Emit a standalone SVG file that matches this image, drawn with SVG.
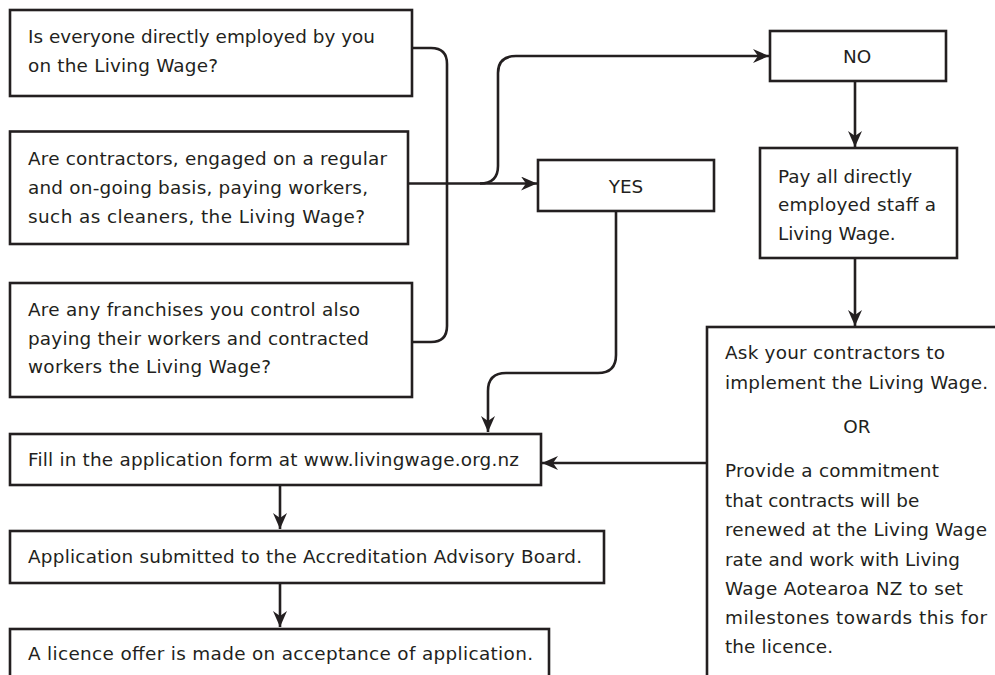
<svg xmlns="http://www.w3.org/2000/svg" width="995" height="675" viewBox="0 0 995 675">
<defs>
<style>
.box{fill:#fff;stroke:#231f20;stroke-width:2.6}
.t{font-family:"DejaVu Sans","Liberation Sans",sans-serif;font-size:18.4px;fill:#231f20}
.c{text-anchor:middle}
.ln{fill:none;stroke:#231f20;stroke-width:2.6}
.ar{marker-end:url(#ah)}
</style>
<marker id="ah" markerUnits="userSpaceOnUse" markerWidth="17" markerHeight="14" refX="16" refY="7" orient="auto">
<path d="M0,0 L16,7 L0,14 L5,7 Z" fill="#231f20"/>
</marker>
</defs>
<rect width="995" height="675" fill="#fff"/>
<g id="connectors">
<path class="ln" d="M412,48 H431 Q447,48 447,64 V326 Q447,342 431,342 H412"/>
<path class="ln ar" d="M408,183.5 H537"/>
<path class="ln ar" d="M480,183.5 Q498,183.5 498,166 V73 Q498,56 516,56 H769"/>
<path class="ln ar" d="M855,81 V147"/>
<path class="ln ar" d="M855,258 V326"/>
<path class="ln ar" d="M616,211 V355 Q616,373 598,373 H506 Q488,373 488,391 V432"/>
<path class="ln ar" d="M707,463 H542"/>
<path class="ln ar" d="M280,486 V529"/>
<path class="ln ar" d="M280,583 V627"/>
</g>
<g id="q1">
<rect class="box" x="10" y="10" width="402" height="86"/>
<text class="t" x="28" y="43" textLength="347">Is everyone directly employed by you</text>
<text class="t" x="28" y="72" textLength="190">on the Living Wage?</text>
</g>
<g id="q2">
<rect class="box" x="10" y="131.5" width="398" height="112.5"/>
<text class="t" x="28" y="165" textLength="359">Are contractors, engaged on a regular</text>
<text class="t" x="28" y="194" textLength="340">and on-going basis, paying workers,</text>
<text class="t" x="28" y="223" textLength="337">such as cleaners, the Living Wage?</text>
</g>
<g id="q3">
<rect class="box" x="10" y="283" width="402" height="114"/>
<text class="t" x="28" y="316" textLength="332">Are any franchises you control also</text>
<text class="t" x="28" y="345" textLength="341">paying their workers and contracted</text>
<text class="t" x="28" y="373" textLength="243">workers the Living Wage?</text>
</g>
<g id="yes">
<rect class="box" x="538" y="160" width="176" height="51"/>
<text class="t c" x="626" y="192.5">YES</text>
</g>
<g id="no">
<rect class="box" x="770" y="31" width="176" height="50"/>
<text class="t c" x="857" y="63">NO</text>
</g>
<g id="pay">
<rect class="box" x="760" y="148" width="197" height="110"/>
<text class="t" x="778" y="183">Pay all directly</text>
<text class="t" x="778" y="211" textLength="158">employed staff a</text>
<text class="t" x="778" y="240">Living Wage.</text>
</g>
<g id="ask">
<rect class="box" x="707" y="327" width="300" height="360"/>
<text class="t" x="725" y="359" textLength="220">Ask your contractors to</text>
<text class="t" x="725" y="389" textLength="263">implement the Living Wage.</text>
<text class="t c" x="857" y="433">OR</text>
<text class="t" x="725" y="477" textLength="214">Provide a commitment</text>
<text class="t" x="725" y="506.5">that contracts will be</text>
<text class="t" x="725" y="536" textLength="262">renewed at the Living Wage</text>
<text class="t" x="725" y="565.5" textLength="235">rate and work with Living</text>
<text class="t" x="725" y="595" textLength="238">Wage Aotearoa NZ to set</text>
<text class="t" x="725" y="624" textLength="262">milestones towards this for</text>
<text class="t" x="725" y="653" textLength="108">the licence.</text>
</g>
<g id="fill">
<rect class="box" x="10" y="434" width="531" height="51"/>
<text class="t" x="28" y="466" textLength="491">Fill in the application form at www.livingwage.org.nz</text>
</g>
<g id="app">
<rect class="box" x="10" y="531" width="594" height="52"/>
<text class="t" x="28" y="563" textLength="554">Application submitted to the Accreditation Advisory Board.</text>
</g>
<g id="licence">
<rect class="box" x="10" y="629" width="539" height="60"/>
<text class="t" x="28" y="660" textLength="505">A licence offer is made on acceptance of application.</text>
</g>
</svg>
